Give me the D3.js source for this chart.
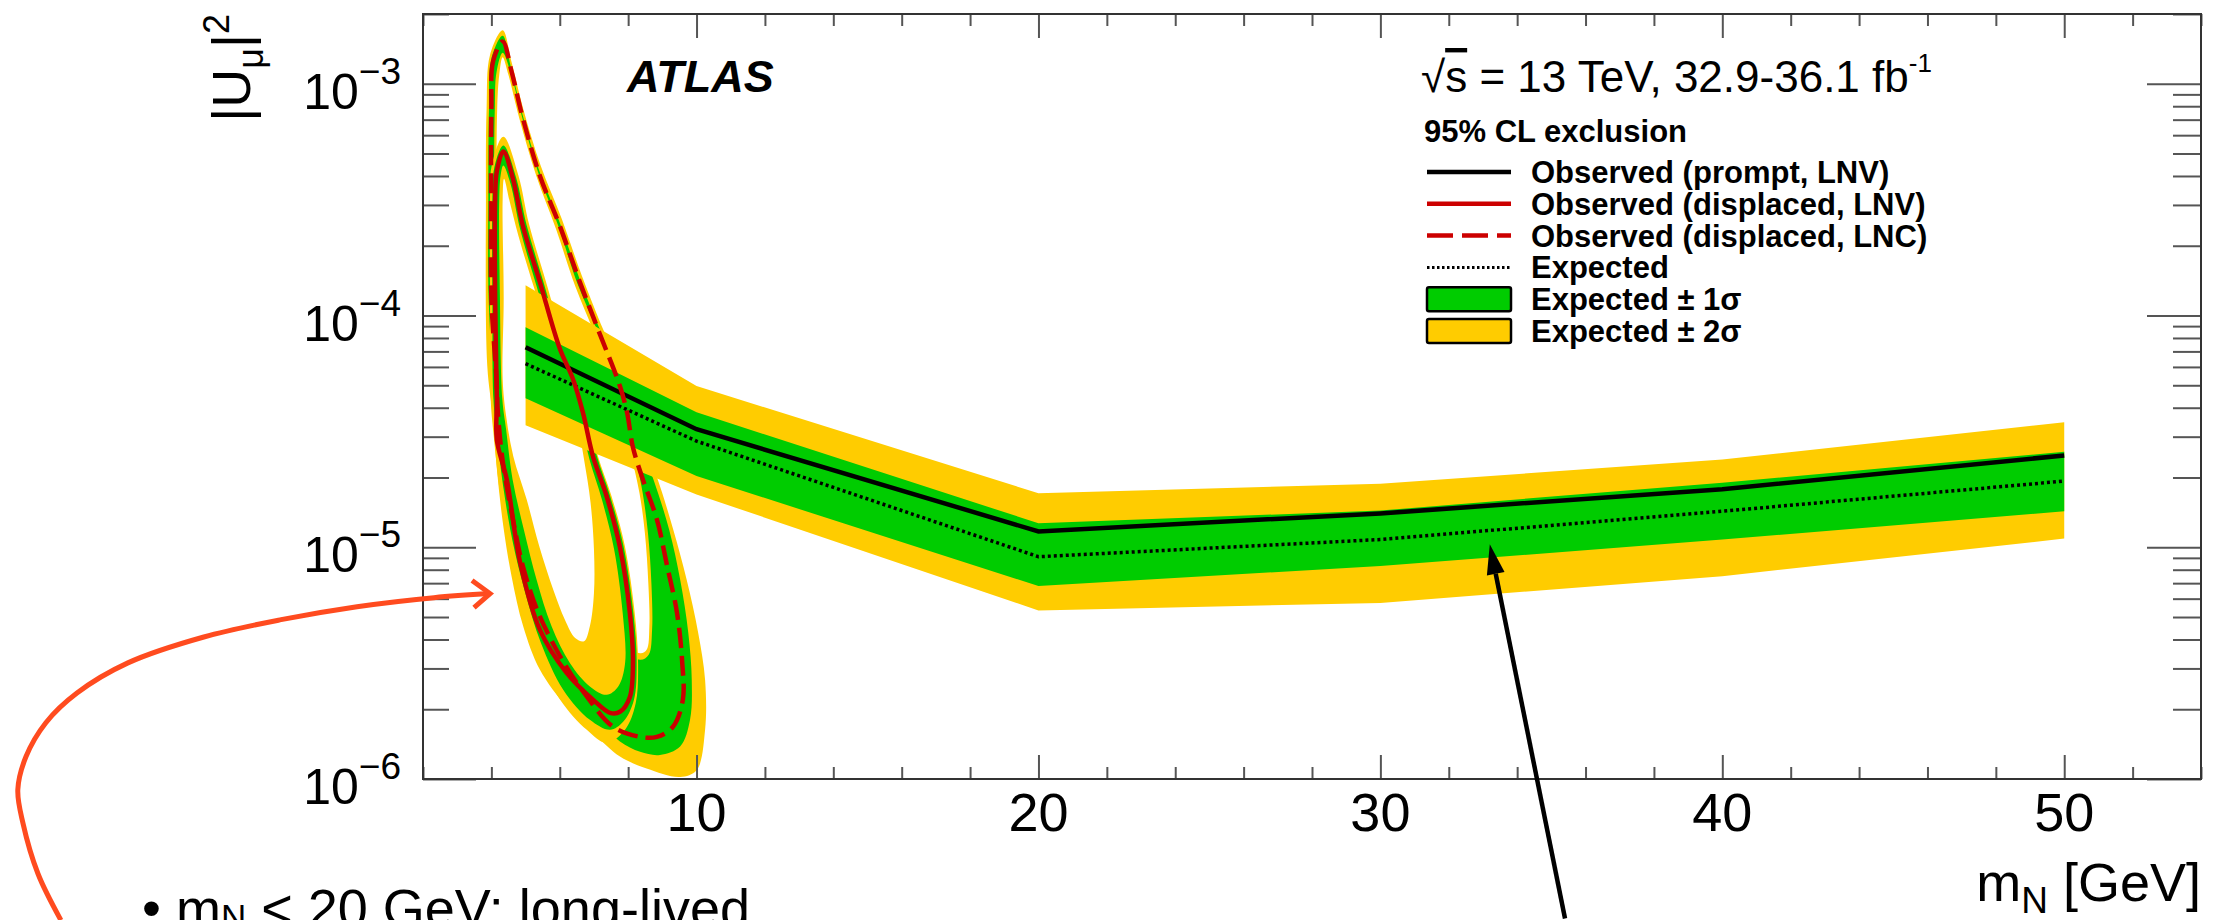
<!DOCTYPE html>
<html>
<head>
<meta charset="utf-8">
<script src="https://cdn.jsdelivr.net/npm/d3@7"></script>
<style>
  body { margin: 0; background: #fff; }
  svg text { font-family: "Liberation Sans", Arial, Helvetica, sans-serif; fill: #000; }
</style>
</head>
<body>
<div id="chart"></div>
<script>
// axis ticks
var xTickValues = [10, 20, 30, 40, 50];
var yTickValues = [1e-6, 1e-5, 1e-4, 1e-3];
var yTickExponents = ["\u22126", "\u22125", "\u22124", "\u22123"];

// prompt search, one value per mass point
var promptMass     = [5, 10, 20, 30, 40, 50];
var promptObserved = [7.3e-5, 3.23e-5, 1.17e-5, 1.40e-5, 1.78e-5, 2.49e-5];
var promptExpected = [6.2e-5, 2.87e-5, 9.1e-6, 1.08e-5, 1.43e-5, 1.93e-5];
var promptMinus1   = [4.4e-5, 2.03e-5, 6.8e-6, 8.3e-6, 1.08e-5, 1.43e-5];
var promptPlus1    = [8.9e-5, 3.82e-5, 1.27e-5, 1.44e-5, 1.9e-5, 2.58e-5];
var promptMinus2   = [3.36e-5, 1.69e-5, 5.34e-6, 5.75e-6, 7.5e-6, 1.09e-5];
var promptPlus2    = [1.35e-4, 4.96e-5, 1.71e-5, 1.88e-5, 2.39e-5, 3.46e-5];

// displaced search, observed contours [mN, |U|^2]
var lncObserved = [[4.33,1.52e-3],[4.05,1.25e-3],[4.0,7.8e-4],[3.99,3.2e-4],[4.0,1.18e-4],[4.15,5.3e-5],
  [4.19,3.8e-5],[4.34,2.3e-5],[4.63,1.32e-5],[4.92,8.3e-6],[5.33,5.4e-6],[6.0,3.4e-6],[6.8,2.26e-6],
  [7.56,1.68e-6],[8.35,1.52e-6],[8.84,1.52e-6],[9.31,1.68e-6],[9.6,2.2e-6],[9.58,3.2e-6],[9.43,5.2e-6],
  [9.14,8.3e-6],[8.84,1.32e-5],[8.43,1.96e-5],[8.14,2.7e-5],[7.97,3.8e-5],[7.76,4.95e-5],[7.12,8.7e-5],
  [6.59,1.39e-4],[6.0,2.44e-4],[5.42,4.0e-4],[4.92,7.1e-4],[4.59,1.13e-3]];
var lnvObserved = [[4.35,5.1e-4],[4.16,4.2e-4],[4.11,3.2e-4],[4.11,1.18e-4],[4.16,4.35e-5],[4.16,2.9e-5],
  [4.45,1.96e-5],[4.84,8.6e-6],[5.42,4.4e-6],[6.2,2.87e-6],[6.97,2.2e-6],[7.47,1.93e-6],[7.76,1.95e-6],
  [8.05,2.26e-6],[8.14,3.2e-6],[8.05,5.2e-6],[7.76,1.0e-5],[7.37,1.66e-5],[6.97,2.47e-5],[6.68,3.8e-5],
  [6.39,5.3e-5],[6.0,7.2e-5],[5.42,1.39e-4],[4.92,2.44e-4],[4.63,3.9e-4]];

// displaced search, expected band contours [mN, |U|^2]
var lncPlus2 = [[4.33,1.70e-3],[4.59,1.24e-3],[4.93,7.81e-4],[5.44,4.44e-4],[6.06,2.61e-4],[6.64,1.49e-4],
  [7.20,9.2e-5],[7.91,5.31e-5],[8.15,3.94e-5],[8.44,2.83e-5],[8.83,2.03e-5],[9.32,1.19e-5],[9.71,7.25e-6],
  [10.05,4.26e-6],[10.25,2.68e-6],[10.25,1.63e-6],[10.0,1.09e-6],[9.52,1.02e-6],[8.54,1.11e-6],[7.76,1.25e-6],
  [6.98,1.58e-6],[6.20,2.05e-6],[5.42,2.96e-6],[4.93,4.56e-6],[4.59,7.5e-6],[4.35,1.23e-5],[4.17,2.10e-5],
  [4.04,3.69e-5],[3.88,6.06e-5],[3.84,3.19e-4],[3.86,7.81e-4],[3.96,1.33e-3]];
var lncPlus1 = [[4.33,1.61e-3],[4.56,1.20e-3],[4.89,7.55e-4],[5.38,4.30e-4],[5.99,2.54e-4],[6.57,1.45e-4],
  [7.13,9.0e-5],[7.84,5.14e-5],[8.07,3.81e-5],[8.37,2.73e-5],[8.74,1.96e-5],[9.20,1.19e-5],[9.52,7.25e-6],
  [9.76,4.26e-6],[9.86,2.68e-6],[9.81,1.80e-6],[9.52,1.38e-6],[8.93,1.27e-6],[8.35,1.31e-6],[7.76,1.45e-6],
  [7.08,1.86e-6],[6.40,2.51e-6],[5.71,3.86e-6],[5.23,5.94e-6],[4.89,8.85e-6],[4.59,1.36e-5],[4.37,2.24e-5],
  [4.20,3.69e-5],[4.06,5.31e-5],[3.92,1.18e-4],[3.91,3.19e-4],[3.93,7.81e-4],[4.0,1.28e-3]];
var lncMinus1 = [[4.33,1.36e-3],[4.56,1.12e-3],[4.89,7.26e-4],[5.37,4.13e-4],[5.96,2.43e-4],[6.51,1.38e-4],
  [7.08,8.7e-5],[7.69,4.94e-5],[7.93,3.62e-5],[8.17,2.60e-5],[8.42,1.73e-5],[8.58,1.15e-5],[8.68,7.0e-6],
  [8.70,4.41e-6],[8.60,3.44e-6],[8.35,3.27e-6],[7.52,3.99e-6],[6.54,5.56e-6],[5.54,9.3e-6],[4.74,1.56e-5],
  [4.25,2.60e-5],[4.12,5.31e-5],[4.09,1.18e-4],[4.08,3.19e-4],[4.10,7.81e-4],[4.15,1.12e-3]];
var lncMinus2 = [[4.33,1.30e-3],[4.50,1.09e-3],[4.82,7.07e-4],[5.31,4.02e-4],[5.89,2.36e-4],[6.45,1.34e-4],
  [7.00,8.45e-5],[7.62,4.81e-5],[7.84,3.56e-5],[8.07,2.56e-5],[8.33,1.72e-5],[8.49,1.15e-5],[8.59,7.0e-6],
  [8.62,4.56e-6],[8.54,3.61e-6],[8.35,3.49e-6],[7.57,4.26e-6],[6.59,5.94e-6],[5.62,9.8e-6],[4.84,1.61e-5],
  [4.35,2.65e-5],[4.20,5.31e-5],[4.17,1.18e-4],[4.15,3.19e-4],[4.17,7.81e-4],[4.23,1.09e-3]];
var lnvPlus2 = [[4.35,5.9e-4],[4.79,4.02e-4],[5.10,2.48e-4],[5.59,1.41e-4],[6.17,7.28e-5],[6.54,5.40e-5],
  [6.81,3.87e-5],[7.11,2.49e-5],[7.51,1.67e-5],[7.90,1.017e-5],[8.19,5.24e-6],[8.29,3.16e-6],[8.22,2.12e-6],
  [7.91,1.63e-6],[7.37,1.43e-6],[6.79,1.63e-6],[6.01,2.20e-6],[5.32,3.49e-6],[4.84,5.94e-6],[4.50,1.01e-5],
  [4.25,1.72e-5],[4.06,3.12e-5],[3.98,4.35e-5],[3.96,1.18e-4],[3.96,3.19e-4],[4.01,4.44e-4]];
var lnvPlus1 = [[4.35,5.42e-4],[4.72,3.95e-4],[5.03,2.46e-4],[5.52,1.40e-4],[6.10,7.21e-5],[6.49,5.35e-5],
  [6.79,3.83e-5],[7.08,2.49e-5],[7.47,1.67e-5],[7.86,1.017e-5],[8.15,5.24e-6],[8.25,3.16e-6],[8.17,2.20e-6],
  [7.86,1.77e-6],[7.47,1.63e-6],[6.88,1.80e-6],[6.10,2.43e-6],[5.45,3.86e-6],[4.98,6.45e-6],[4.62,1.062e-5],
  [4.35,1.81e-5],[4.15,3.18e-5],[4.06,4.35e-5],[4.03,1.18e-4],[4.03,3.19e-4],[4.08,4.30e-4]];
var lnvMinus1 = [[4.35,4.44e-4],[4.56,3.70e-4],[4.84,2.36e-4],[5.32,1.34e-4],[5.91,6.92e-5],[6.30,5.14e-5],
  [6.57,3.69e-5],[6.87,2.39e-5],[7.23,1.61e-5],[7.59,9.77e-6],[7.84,5.20e-6],[7.91,3.16e-6],[7.71,2.51e-6],
  [7.37,2.31e-6],[6.88,2.51e-6],[6.30,3.16e-6],[5.76,4.56e-6],[5.32,7.25e-6],[4.95,1.19e-5],[4.62,1.96e-5],
  [4.43,3.23e-5],[4.32,4.35e-5],[4.25,1.18e-4],[4.23,3.19e-4],[4.27,4.02e-4]];
var lnvMinus2 = [[4.37,3.89e-4],[4.54,3.08e-4],[4.79,2.21e-4],[5.26,1.30e-4],[5.86,6.92e-5],[6.20,5.14e-5],
  [6.48,3.69e-5],[6.71,2.39e-5],[6.90,1.56e-5],[7.0,9.77e-6],[7.0,6.35e-6],[6.88,4.56e-6],[6.71,3.93e-6],
  [6.45,4.06e-6],[6.15,4.87e-6],[5.81,6.56e-6],[5.40,1.01e-5],[5.03,1.61e-5],[4.64,2.47e-5],[4.43,3.69e-5],
  [4.33,5.31e-5],[4.36,1.18e-4],[4.33,3.19e-4]];

var legendLabels = ["Observed (prompt, LNV)", "Observed (displaced, LNV)", "Observed (displaced, LNC)",
  "Expected", "Expected \u00b1 1\u03c3", "Expected \u00b1 2\u03c3"];

// annotations drawn over the slide
var redArrow = [[-8.59,2.46e-7],[-9.26,3.9e-7],[-9.7,6.45e-7],[-9.85,9.0e-7],[-9.61,1.25e-6],[-9.03,1.75e-6],
  [-8.12,2.35e-6],[-6.63,3.17e-6],[-4.41,4.1e-6],[-2.15,4.87e-6],[0.07,5.54e-6],[2.32,6.06e-6],[3.96,6.31e-6]];
var blackArrow = [[35.4,2.5e-7],[33.2,1.03e-5]];

var W = 2222, H = 920;
var margin = {top: 14, right: 21, bottom: 141, left: 423};
var yellow = "#ffcc00", green = "#00cc00", red = "#cc0000", tickColor = "#555";

var x = d3.scaleLinear().domain([2, 54]).range([margin.left, W - margin.right]);
var y = d3.scaleLog().domain([1e-6, 2e-3]).range([H - margin.bottom, margin.top]);

var svg = d3.select("#chart").append("svg").attr("width", W).attr("height", H);

svg.append("clipPath").attr("id", "frame")
  .append("rect").attr("x", x(2)).attr("y", y(2e-3))
  .attr("width", x(54) - x(2)).attr("height", y(1e-6) - y(2e-3));

var plot = svg.append("g").attr("clip-path", "url(#frame)");

var contour = d3.line().x(function(d){ return x(d[0]); }).y(function(d){ return y(d[1]); })
  .curve(d3.curveCatmullRomClosed.alpha(0.5));

// displaced bands: each contour filled in turn, outermost first
[[lncPlus2, yellow], [lncPlus1, green], [lncMinus1, yellow], [lncMinus2, "#fff"],
 [lnvPlus2, yellow], [lnvPlus1, green], [lnvMinus1, yellow], [lnvMinus2, "#fff"]].forEach(function(p){
  plot.append("path").datum(p[0]).attr("d", contour).attr("fill", p[1]);
});

// prompt bands
var band = function(lo, hi){
  return d3.area().x(function(d){ return x(d); })
    .y0(function(d, i){ return y(lo[i]); }).y1(function(d, i){ return y(hi[i]); });
};
plot.append("path").datum(promptMass).attr("d", band(promptMinus2, promptPlus2)).attr("fill", yellow);
plot.append("path").datum(promptMass).attr("d", band(promptMinus1, promptPlus1)).attr("fill", green);

var series = function(vals){
  return d3.line().x(function(d){ return x(d); }).y(function(d, i){ return y(vals[i]); });
};
plot.append("path").datum(promptMass).attr("d", series(promptExpected)).attr("fill", "none")
  .attr("stroke", "#000").attr("stroke-width", 3.5).attr("stroke-dasharray", "3,3");
plot.append("path").datum(promptMass).attr("d", series(promptObserved)).attr("fill", "none")
  .attr("stroke", "#000").attr("stroke-width", 4.5);

plot.append("path").datum(lnvObserved).attr("d", contour).attr("fill", "none")
  .attr("stroke", red).attr("stroke-width", 4.5).attr("stroke-linejoin", "round");
plot.append("path").datum(lncObserved).attr("d", contour).attr("fill", "none")
  .attr("stroke", red).attr("stroke-width", 4.5).attr("stroke-dasharray", "20,8");

// frame and ticks
function ticks(axis, tr, values, size){
  svg.append("g").attr("transform", tr)
    .call(axis.tickValues(values).tickSizeInner(-size).tickSizeOuter(0).tickFormat(""))
    .call(function(g){
      g.select(".domain").remove();
      g.selectAll("line").attr("stroke", tickColor).attr("stroke-width", 2);
    });
}
var xMinor = d3.range(2, 55, 2).filter(function(v){ return v % 10 !== 0; });
var yMinor = y.ticks().filter(function(v){ return Math.abs(Math.log10(v) - Math.round(Math.log10(v))) > 1e-6; });
var bottomY = H - margin.bottom, rightX = W - margin.right;

ticks(d3.axisBottom(x), "translate(0," + bottomY + ")", xTickValues, 24);
ticks(d3.axisBottom(x), "translate(0," + bottomY + ")", xMinor, 12);
ticks(d3.axisTop(x), "translate(0," + margin.top + ")", xTickValues, 24);
ticks(d3.axisTop(x), "translate(0," + margin.top + ")", xMinor, 12);
ticks(d3.axisLeft(y), "translate(" + margin.left + ",0)", yTickValues, 53);
ticks(d3.axisLeft(y), "translate(" + margin.left + ",0)", yMinor, 26);
ticks(d3.axisRight(y), "translate(" + rightX + ",0)", yTickValues, 54);
ticks(d3.axisRight(y), "translate(" + rightX + ",0)", yMinor, 28);

svg.append("rect").attr("x", x(2)).attr("y", y(2e-3))
  .attr("width", x(54) - x(2)).attr("height", y(1e-6) - y(2e-3))
  .attr("fill", "none").attr("stroke", "#333").attr("stroke-width", 2);

// tick labels
svg.selectAll(".xlab").data(xTickValues).enter().append("text")
  .attr("x", function(d){ return x(d); }).attr("y", bottomY + 52)
  .attr("text-anchor", "middle").style("font-size", "54px")
  .text(function(d){ return d; });

var ylab = svg.selectAll(".ylab").data(yTickValues).enter().append("text")
  .attr("x", margin.left - 22).attr("y", function(d){ return y(d) + 25; })
  .attr("text-anchor", "end").style("font-size", "50px");
ylab.append("tspan").text("10");
ylab.append("tspan").attr("dy", -25).style("font-size", "37px")
  .text(function(d, i){ return yTickExponents[i]; });

// axis titles
var xt = svg.append("text").attr("x", rightX).attr("y", 901).attr("text-anchor", "end")
  .style("font-size", "54px");
xt.append("tspan").text("m");
xt.append("tspan").attr("dy", 12).style("font-size", "37px").text("N");
xt.append("tspan").attr("dy", -12).text(" [GeV]");

var yt = svg.append("text").attr("transform", "translate(250," + margin.top + ") rotate(-90)")
  .attr("text-anchor", "end").style("font-size", "54px");
yt.append("tspan").text("|U");
yt.append("tspan").attr("dy", 13).style("font-size", "36px").text("\u03bc");
yt.append("tspan").attr("dy", -13).text("|");
yt.append("tspan").attr("dy", -21).style("font-size", "36px").text("2");

// labels inside the frame
svg.append("text").attr("x", 627).attr("y", 92).style("font-size", "45px")
  .style("font-weight", "bold").style("font-style", "italic").text("ATLAS");

var lumi = svg.append("text").attr("x", 1421).attr("y", 92).style("font-size", "44px");
lumi.append("tspan").text("\u221a");
lumi.append("tspan").style("text-decoration", "overline").text("s");
lumi.append("tspan").text(" = 13 TeV, 32.9-36.1 fb");
lumi.append("tspan").attr("dy", -20).style("font-size", "26px").text("-1");

svg.append("text").attr("x", 1424).attr("y", 142).style("font-size", "31px")
  .style("font-weight", "bold").text("95% CL exclusion");

// legend
var legX0 = 1427, legX1 = 1511, legTextX = 1531, rowY = function(i){ return 172 + i * 31.8; };
var legendStyles = [
  {stroke: "#000", dash: null, width: 4.5},
  {stroke: red, dash: null, width: 4.5},
  {stroke: red, dash: "26,9", width: 4.5},
  {stroke: "#000", dash: "2.5,2.5", width: 3},
  {fill: green},
  {fill: yellow}
];
legendLabels.forEach(function(label, i){
  var s = legendStyles[i], cy = rowY(i);
  if (s.fill) {
    svg.append("rect").attr("x", legX0).attr("y", cy - 12).attr("width", legX1 - legX0).attr("height", 24)
      .attr("rx", 2).attr("fill", s.fill).attr("stroke", "#000").attr("stroke-width", 2.5);
  } else {
    svg.append("line").attr("x1", legX0).attr("x2", legX1).attr("y1", cy).attr("y2", cy)
      .attr("stroke", s.stroke).attr("stroke-width", s.width).attr("stroke-dasharray", s.dash);
  }
  svg.append("text").attr("x", legTextX).attr("y", cy + 11).style("font-size", "31px")
    .style("font-weight", "bold").text(label);
});

// slide annotations
var arrowLine = d3.line().x(function(d){ return x(d[0]); }).y(function(d){ return y(d[1]); });
svg.append("path").datum(redArrow).attr("d", arrowLine.curve(d3.curveCatmullRom))
  .attr("fill", "none").attr("stroke", "#ff4b1f").attr("stroke-width", 5);
var tip = redArrow[redArrow.length - 1], tx = x(tip[0]), ty = y(tip[1]);
svg.append("path").attr("d", "M" + (tx - 18) + "," + (ty - 13) + "L" + tx + "," + ty + "L" + (tx - 16) + "," + (ty + 14))
  .attr("fill", "none").attr("stroke", "#ff4b1f").attr("stroke-width", 5);

var b0 = blackArrow[0], b1 = blackArrow[1];
var bx0 = x(b0[0]), by0 = y(b0[1]), bx1 = x(b1[0]), by1 = y(b1[1]);
var ang = Math.atan2(by1 - by0, bx1 - bx0), len = 30, half = 9;
var baseX = bx1 - len * Math.cos(ang), baseY = by1 - len * Math.sin(ang);
svg.append("line").attr("x1", bx0).attr("y1", by0).attr("x2", baseX).attr("y2", baseY)
  .attr("stroke", "#000").attr("stroke-width", 4.5);
svg.append("path").attr("d", "M" + bx1 + "," + by1 +
    "L" + (baseX + half * Math.sin(ang)) + "," + (baseY - half * Math.cos(ang)) +
    "L" + (baseX - half * Math.sin(ang)) + "," + (baseY + half * Math.cos(ang)) + "Z")
  .attr("fill", "#000");

// bullet line of the slide, cut by the lower edge as in the original
var bullet = svg.append("text").attr("x", 142).attr("y", 927).style("font-size", "54px");
bullet.append("tspan").text("\u2022  m");
bullet.append("tspan").attr("dy", 2).style("font-size", "35px").text("N");
bullet.append("tspan").attr("dy", -2).text(" < 20 GeV: long-lived");
</script>
</body>
</html>
